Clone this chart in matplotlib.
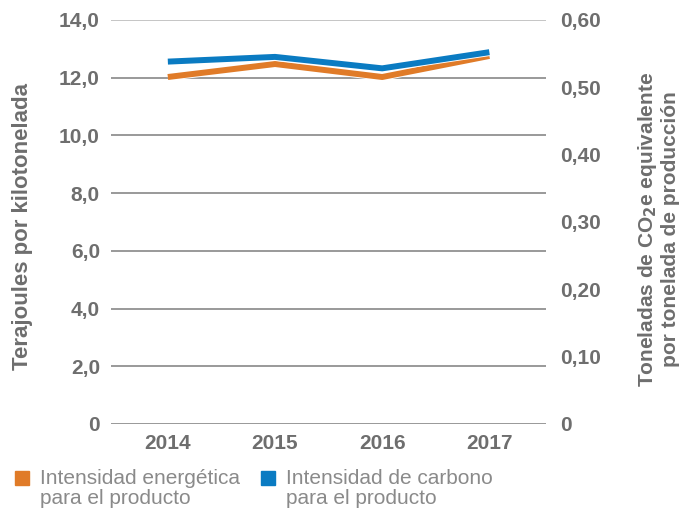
import matplotlib.pyplot as plt
import matplotlib.patches as mpatches
import matplotlib.patheffects as pe
from matplotlib.legend_handler import HandlerPatch

years = ['2014', '2015', '2016', '2017']
energia = [12.02, 12.47, 12.02, 12.75]      # TJ por kilotonelada (eje izq.)
carbono = [0.538, 0.545, 0.528, 0.552]      # t CO2e por t (eje der.)

left_ticks = [0, 2, 4, 6, 8, 10, 12, 14]
left_labels = ['0', '2,0', '4,0', '6,0', '8,0', '10,0', '12,0', '14,0']
right_ticks = [0, 0.1, 0.2, 0.3, 0.4, 0.5, 0.6]
right_labels = ['0', '0,10', '0,20', '0,30', '0,40', '0,50', '0,60']

orange = '#E07B28'
blue = '#0A7BC2'
gray = '#6E6E6E'
font = ['Liberation Sans', 'DejaVu Sans']
plt.rcParams['font.family'] = font

fig = plt.figure(figsize=(6.94, 5.09), dpi=100)
ax = fig.add_axes([0.16, 0.167, 0.627, 0.794])
ax2 = ax.twinx()

x = range(len(years))
ax.plot(x, energia, color=orange, lw=4.3, solid_capstyle='butt', zorder=3,
        path_effects=[pe.Stroke(linewidth=5.6, foreground='white'), pe.Normal()])
ax2.plot(x, carbono, color=blue, lw=4.3, solid_capstyle='butt', zorder=3,
         path_effects=[pe.Stroke(linewidth=5.6, foreground='white'), pe.Normal()])

ax.set_xlim(-0.53, 3.53)
ax.set_ylim(0, 14)
ax2.set_ylim(0, 0.6)
ax.set_yticks(left_ticks)
ax.set_yticklabels(left_labels)
ax2.set_yticks(right_ticks)
ax2.set_yticklabels(right_labels)
ax.set_xticks(list(x))
ax.set_xticklabels(years)

for a in (ax, ax2):
    for s in a.spines.values():
        s.set_visible(False)
    a.tick_params(length=0, colors=gray, labelsize=15)
    for lab in a.get_xticklabels() + a.get_yticklabels():
        lab.set_fontweight('bold')
ax.tick_params(axis='y', pad=8)
ax.tick_params(axis='x', pad=7)
ax2.tick_params(axis='y', pad=10)

for t in left_ticks:
    c = '#BBBBBB' if t == 14 else '#888888'
    ax.axhline(t, color=c, lw=1.2, zorder=1)

fig.text(0.033, 0.555, 'Terajoules por kilotonelada', rotation=90, ha='center', va='center',
         fontsize=16, fontweight='bold', color=gray)
fig.text(0.948, 0.55, 'Toneladas de CO$_\\mathbf{2}$e equivalente\npor tonelada de producción',
         rotation=90, ha='center', va='center', fontsize=15, fontweight='bold', color=gray,
         linespacing=1.1)


# legend square next to the first line of a two-line label
def top_square(legend, orig_handle, xdescent, ydescent, width, height, fontsize):
    return mpatches.Rectangle((-xdescent, -ydescent + 8), width, height)


handles = [mpatches.Patch(color=orange, label='Intensidad energética\npara el producto'),
           mpatches.Patch(color=blue, label='Intensidad de carbono\npara el producto')]
leg = fig.legend(handles=handles, loc='upper left', bbox_to_anchor=(0.022, 0.078), ncol=2,
                 frameon=False, handlelength=0.67, handleheight=0.67, handletextpad=0.53,
                 columnspacing=1.0, borderpad=0, borderaxespad=0,
                 prop={'size': 15}, labelspacing=0,
                 handler_map={mpatches.Patch: HandlerPatch(patch_func=top_square)})
for t in leg.get_texts():
    t.set_color('#8A8A8A')
    t.set_linespacing(1.05)

fig.savefig('out.png', dpi=100)
